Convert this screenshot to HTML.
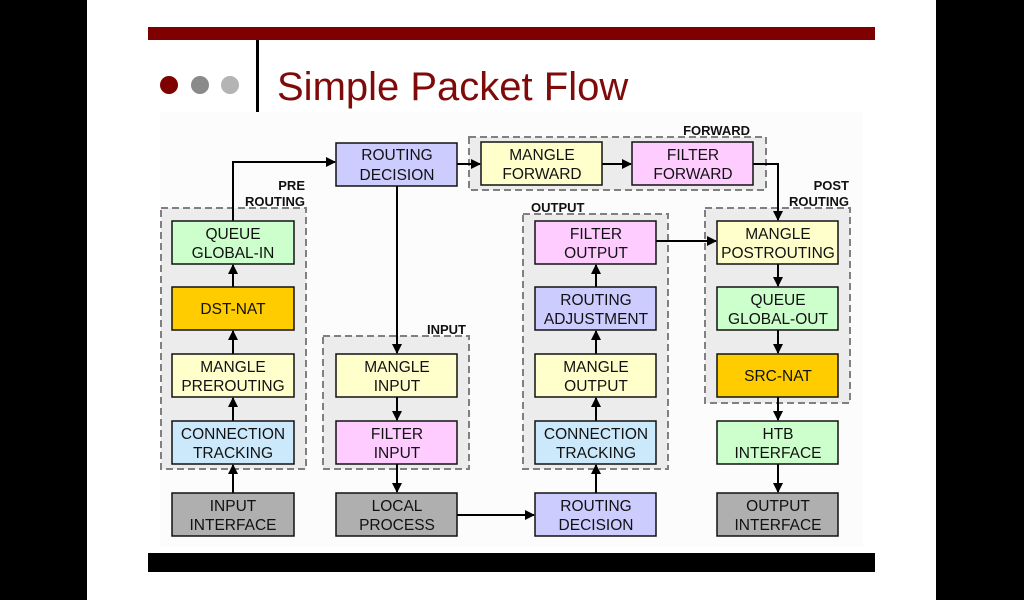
<!DOCTYPE html>
<html><head><meta charset="utf-8"><style>
html,body{margin:0;padding:0;background:#000;}
svg{display:block;}
text{font-family:"Liberation Sans",sans-serif;}
</style></head><body>
<svg width="1024" height="600" viewBox="0 0 1024 600" xmlns="http://www.w3.org/2000/svg">
<defs>
<marker id="a" viewBox="0 0 10 10" refX="9" refY="5" markerWidth="5" markerHeight="5" orient="auto"><path d="M0,0L10,5L0,10z" fill="#000"/></marker>
</defs>
<rect x="0" y="0" width="1024" height="600" fill="#000"/>
<rect x="87" y="0" width="849" height="600" fill="#fff"/>
<rect x="148" y="27" width="727" height="13" fill="#7f0000"/>
<rect x="148" y="553" width="727" height="19" fill="#000"/>
<rect x="256" y="40" width="3" height="72" fill="#000"/>
<circle cx="169" cy="85" r="9" fill="#7f0000"/>
<circle cx="200" cy="85" r="9" fill="#8a8a8a"/>
<circle cx="230" cy="85" r="9" fill="#b4b4b4"/>
<text x="277" y="100" font-size="40" fill="#7f0a0a">Simple Packet Flow</text>
<rect x="160" y="112" width="703" height="435" fill="#fcfcfc"/>

<g fill="#ececec" stroke="#808080" stroke-width="2" stroke-dasharray="7,4">
<rect x="161" y="208" width="145" height="261"/>
<rect x="323" y="336" width="146" height="133"/>
<rect x="469" y="137" width="297" height="53"/>
<rect x="523" y="214" width="145" height="255"/>
<rect x="705" y="208" width="145" height="195"/>
</g>

<g font-size="13" font-weight="bold" fill="#111">
<text x="305" y="190" text-anchor="end">PRE</text>
<text x="305" y="206" text-anchor="end">ROUTING</text>
<text x="466" y="334" text-anchor="end">INPUT</text>
<text x="531" y="212">OUTPUT</text>
<text x="750" y="135" text-anchor="end">FORWARD</text>
<text x="849" y="190" text-anchor="end">POST</text>
<text x="849" y="206" text-anchor="end">ROUTING</text>
</g>

<g stroke="#000" stroke-width="2" fill="none" marker-end="url(#a)">
<path d="M233,221V162H335"/>
<path d="M397,186V353"/>
<path d="M457,164H480"/>
<path d="M602,164H631"/>
<path d="M753,164H778V220"/>
<path d="M656,241H716"/>
<path d="M233,287V265"/>
<path d="M233,354V331"/>
<path d="M233,421V398"/>
<path d="M233,493V465"/>
<path d="M397,397V420"/>
<path d="M397,464V492"/>
<path d="M457,515H534"/>
<path d="M596,493V465"/>
<path d="M596,421V398"/>
<path d="M596,354V331"/>
<path d="M596,287V265"/>
<path d="M778,264V286"/>
<path d="M778,330V353"/>
<path d="M778,397V420"/>
<path d="M778,464V492"/>
</g>

<g stroke="#111" stroke-width="1.5">
<rect x="172" y="221" width="122" height="43" fill="#ccffcc"/>
<rect x="172" y="287" width="122" height="43" fill="#ffcc00"/>
<rect x="172" y="354" width="122" height="43" fill="#ffffcc"/>
<rect x="172" y="421" width="122" height="43" fill="#cce8fb"/>
<rect x="172" y="493" width="122" height="43" fill="#afafaf"/>
<rect x="336" y="143" width="121" height="43" fill="#ccccff"/>
<rect x="336" y="354" width="121" height="43" fill="#ffffcc"/>
<rect x="336" y="421" width="121" height="43" fill="#ffccff"/>
<rect x="336" y="493" width="121" height="43" fill="#afafaf"/>
<rect x="481" y="142" width="121" height="43" fill="#ffffcc"/>
<rect x="632" y="142" width="121" height="43" fill="#ffccff"/>
<rect x="535" y="221" width="121" height="43" fill="#ffccff"/>
<rect x="535" y="287" width="121" height="43" fill="#ccccff"/>
<rect x="535" y="354" width="121" height="43" fill="#ffffcc"/>
<rect x="535" y="421" width="121" height="43" fill="#cce8fb"/>
<rect x="535" y="493" width="121" height="43" fill="#ccccff"/>
<rect x="717" y="221" width="121" height="43" fill="#ffffcc"/>
<rect x="717" y="287" width="121" height="43" fill="#ccffcc"/>
<rect x="717" y="354" width="121" height="43" fill="#ffcc00"/>
<rect x="717" y="421" width="121" height="43" fill="#ccffcc"/>
<rect x="717" y="493" width="121" height="43" fill="#afafaf"/>
</g>

<g font-size="15.5" fill="#111" text-anchor="middle">
<text x="233" y="239">QUEUE</text><text x="233" y="258">GLOBAL-IN</text>
<text x="233" y="314">DST-NAT</text>
<text x="233" y="372">MANGLE</text><text x="233" y="391">PREROUTING</text>
<text x="233" y="439">CONNECTION</text><text x="233" y="458">TRACKING</text>
<text x="233" y="511">INPUT</text><text x="233" y="530">INTERFACE</text>
<text x="397" y="160">ROUTING</text><text x="397" y="180">DECISION</text>
<text x="397" y="372">MANGLE</text><text x="397" y="391">INPUT</text>
<text x="397" y="439">FILTER</text><text x="397" y="458">INPUT</text>
<text x="397" y="511">LOCAL</text><text x="397" y="530">PROCESS</text>
<text x="542" y="160">MANGLE</text><text x="542" y="179">FORWARD</text>
<text x="693" y="160">FILTER</text><text x="693" y="179">FORWARD</text>
<text x="596" y="239">FILTER</text><text x="596" y="258">OUTPUT</text>
<text x="596" y="305">ROUTING</text><text x="596" y="324">ADJUSTMENT</text>
<text x="596" y="372">MANGLE</text><text x="596" y="391">OUTPUT</text>
<text x="596" y="439">CONNECTION</text><text x="596" y="458">TRACKING</text>
<text x="596" y="511">ROUTING</text><text x="596" y="530">DECISION</text>
<text x="778" y="239">MANGLE</text><text x="778" y="258">POSTROUTING</text>
<text x="778" y="305">QUEUE</text><text x="778" y="324">GLOBAL-OUT</text>
<text x="778" y="381">SRC-NAT</text>
<text x="778" y="439">HTB</text><text x="778" y="458">INTERFACE</text>
<text x="778" y="511">OUTPUT</text><text x="778" y="530">INTERFACE</text>
</g>
</svg>
</body></html>
